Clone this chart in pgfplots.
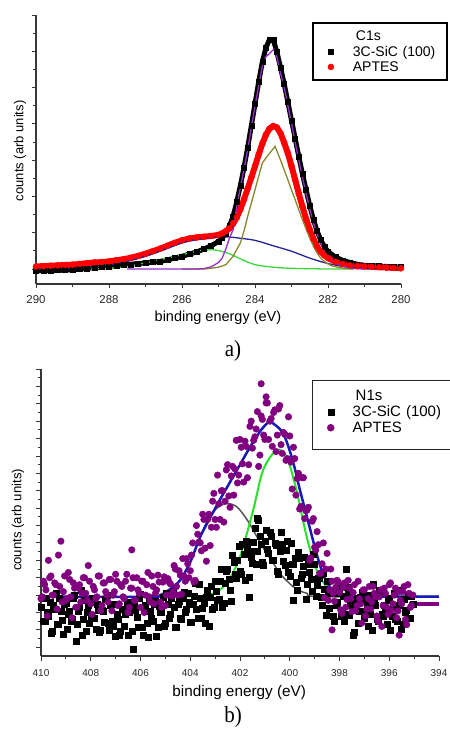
\documentclass[border=0pt]{standalone}
\usepackage{pgfplots}
\pgfplotsset{compat=1.18}
\usepackage{pgfplotstable}
\usepackage{fontspec}
\setmainfont{Liberation Sans}
\newfontfamily\seriffont{Liberation Serif}

\definecolor{axgray}{RGB}{55,55,55}
\definecolor{fitviolet}{RGB}{150,45,200}
\definecolor{fitolive}{RGB}{135,135,45}
\definecolor{fitnavy}{RGB}{35,35,150}
\definecolor{fitgreen}{RGB}{60,215,60}
\definecolor{aptpurple}{RGB}{128,0,128}
\definecolor{nblue}{RGB}{25,25,185}
\definecolor{ngreen}{RGB}{40,225,40}
\definecolor{ngrey}{RGB}{85,85,85}

% ---------- C1s ----------
\pgfplotstableread{
E v
290.0 -0.04
289.8 -0.05
289.6 -0.04
289.4 -0.03
289.2 -0.03
289.0 -0.02
288.8 0.00
288.6 0.02
288.4 0.04
288.2 0.05
288.0 0.07
287.8 0.09
287.6 0.11
287.4 0.13
287.2 0.15
287.0 0.17
286.8 0.19
286.6 0.21
286.4 0.25
286.2 0.30
286.0 0.35
285.8 0.41
285.6 0.47
285.4 0.55
285.2 0.64
285.0 0.76
284.9 0.85
284.8 0.98
284.7 1.18
284.6 1.45
284.5 1.85
284.4 2.30
284.3 2.80
284.2 3.35
284.1 3.95
284.0 4.55
283.9 5.15
283.8 5.70
283.7 6.10
283.6 6.33
283.5 6.32
283.4 5.98
283.3 5.55
283.2 5.10
283.1 4.60
283.0 4.10
282.9 3.60
282.8 3.10
282.7 2.62
282.6 2.18
282.5 1.75
282.4 1.36
282.3 1.05
282.2 0.80
282.1 0.62
282.0 0.48
281.8 0.33
281.6 0.24
281.4 0.18
281.2 0.13
281.0 0.10
280.8 0.09
280.6 0.08
280.4 0.07
280.2 0.06
280.0 0.05
}\cSiC

\pgfplotstableread{
E v
290.0 0.07
289.8 0.08
289.6 0.09
289.4 0.10
289.2 0.11
289.0 0.12
288.8 0.14
288.6 0.16
288.4 0.18
288.2 0.19
288.0 0.21
287.8 0.24
287.6 0.27
287.4 0.31
287.2 0.36
287.0 0.42
286.8 0.49
286.6 0.56
286.4 0.64
286.2 0.72
286.0 0.79
285.8 0.84
285.6 0.87
285.4 0.89
285.2 0.91
285.0 0.94
284.9 0.98
284.8 1.04
284.7 1.12
284.6 1.25
284.5 1.42
284.4 1.65
284.3 1.92
284.2 2.22
284.1 2.52
284.0 2.83
283.9 3.15
283.8 3.45
283.7 3.70
283.6 3.87
283.5 3.94
283.4 3.90
283.3 3.74
283.2 3.48
283.1 3.19
283.0 2.84
282.9 2.46
282.8 2.08
282.7 1.72
282.6 1.38
282.5 1.08
282.4 0.83
282.3 0.62
282.2 0.48
282.1 0.38
282.0 0.30
281.8 0.20
281.6 0.14
281.4 0.10
281.2 0.08
281.0 0.07
280.8 0.06
280.6 0.05
280.4 0.04
280.2 0.03
280.0 0.02
}\cAPT

\pgfplotstableread{
E v
287.5 0.00
285.6 0.00
285.4 0.01
285.2 0.06
285.0 0.18
284.9 0.30
284.8 0.55
284.7 0.85
284.6 1.08
284.5 1.72
284.4 2.25
284.3 2.75
284.2 3.30
284.1 3.90
284.0 4.48
283.9 5.05
283.8 5.58
283.7 5.85
283.6 5.94
283.48 6.06
283.4 5.85
283.3 5.40
283.2 5.00
283.1 4.52
283.0 4.02
282.9 3.50
282.8 3.00
282.7 2.52
282.6 2.09
282.5 1.66
282.4 1.27
282.3 0.97
282.2 0.72
282.1 0.52
282.0 0.35
281.8 0.17
281.6 0.08
281.4 0.03
281.2 0.01
281.0 0.00
}\cfitSiC

\pgfplotstableread{
E v
286.0 0.00
285.4 0.00
285.2 0.02
285.0 0.05
284.8 0.12
284.6 0.35
284.4 0.72
284.3 1.05
284.2 1.45
284.1 1.82
284.0 2.18
283.9 2.55
283.8 2.92
283.7 3.06
283.6 3.19
283.45 3.38
283.3 3.00
283.2 2.73
283.1 2.46
283.0 2.18
282.9 1.91
282.8 1.63
282.7 1.36
282.6 1.10
282.5 0.85
282.4 0.63
282.3 0.44
282.2 0.30
282.1 0.21
282.0 0.14
281.9 0.09
281.7 0.04
281.5 0.01
281.3 0.00
}\cfitAPT

\pgfplotstableread{
E v
290.0 0.00
289.5 0.01
289.0 0.02
288.5 0.06
288.0 0.11
287.5 0.21
287.0 0.35
286.5 0.53
286.0 0.72
285.5 0.83
285.0 0.88
284.7 0.88
284.5 0.86
284.0 0.79
283.5 0.64
283.0 0.49
282.5 0.30
282.0 0.15
281.5 0.06
281.0 0.02
280.5 0.00
}\cfitBroad

\pgfplotstableread{
E v
288.5 0.00
288.0 0.02
287.5 0.07
287.0 0.17
286.5 0.28
286.0 0.39
285.5 0.51
285.15 0.53
285.0 0.51
284.7 0.42
284.4 0.28
284.0 0.12
283.5 0.05
283.0 0.02
282.0 0.00
281.3 0.00
}\cfitSmall

% ---------- N1s ----------
\pgfplotstableread{
E v
410.0 2.8
409.9 2.0
409.8 3.3
409.7 2.3
409.6 1.3
409.5 2.9
409.4 3.6
409.3 1.85
409.2 2.55
409.1 1.25
409.0 3.05
408.9 2.4
408.8 2.0
408.7 3.3
408.6 0.85
408.5 2.6
408.4 3.8
408.3 2.1
408.2 1.4
408.1 2.9
408.0 2.3
407.9 3.1
407.8 1.55
407.7 2.65
407.6 1.5
407.5 2.55
407.4 3.25
407.3 1.9
407.2 2.9
407.1 1.7
407.0 1.15
406.9 2.1
406.8 1.4
406.7 2.7
406.6 2.4
406.5 1.2
406.4 3.1
406.3 0.4
406.2 2.65
406.1 1.65
406.0 3.55
405.9 1.2
405.8 2.9
405.7 1.1
405.6 2.6
405.5 2.0
405.4 3.15
405.3 1.65
405.2 2.5
405.1 3.4
405.0 1.9
404.9 2.95
404.8 2.4
404.7 3.7
404.6 1.65
404.5 2.95
404.4 2.2
404.3 3.35
404.2 2.5
404.1 3.6
404.0 1.95
403.9 2.95
403.8 4.2
403.7 2.2
403.6 3.3
403.5 2.75
403.4 1.9
403.3 3.8
403.2 3.4
403.1 2.7
403.0 4.3
402.9 3.2
402.8 4.3
402.7 2.8
402.6 4.2
402.5 5.0
402.4 3.8
402.3 5.8
402.2 4.7
402.1 5.5
402.0 4.9
401.9 6.4
401.8 4.35
401.7 6.25
401.6 6.05
401.5 5.35
401.4 7.35
401.3 6.05
401.2 6.9
401.1 5.4
401.0 6.6
400.9 6.15
400.8 7.1
400.7 5.5
400.6 6.5
400.5 4.9
400.4 6.0
400.3 6.4
400.2 5.2
400.1 6.6
400.0 4.6
399.9 5.3
399.8 5.6
399.7 3.8
399.6 5.6
399.5 4.7
399.4 5.7
399.3 4.15
399.2 4.8
399.1 3.7
399.0 5.3
398.9 4.05
398.8 4.5
398.7 2.9
398.6 3.85
398.5 4.3
398.4 2.75
398.3 3.6
398.2 2.0
398.1 3.1
398.0 3.6
397.9 2.55
397.8 2.0
397.7 3.95
397.6 2.35
397.5 3.05
397.4 1.35
397.3 3.35
397.2 2.55
397.1 3.65
397.0 2.2
396.9 2.8
396.8 3.5
396.7 1.5
396.6 3.1
396.5 2.1
396.4 3.8
396.3 2.4
396.2 2.9
396.1 1.8
396.0 3.2
395.9 2.3
395.8 3.6
395.7 2.0
395.6 2.9
395.5 1.55
395.4 3.25
395.3 2.65
395.2 2.15
395.1 3.45
401.3 7.95
397.75 5.0
401.65 3.4
399.85 3.2
409.95 3.3
409.85 2.0
409.75 2.5
409.65 3.1
409.55 1.4
409.45 2.7
409.35 1.8
409.25 3.35
409.15 2.05
409.05 2.95
408.95 1.55
408.85 2.6
408.75 2.1
408.65 3.5
408.55 1.8
408.45 2.8
408.35 1.2
408.25 3.2
408.15 2.5
408.05 1.9
407.95 3.3
407.85 2.2
407.75 2.95
407.65 1.35
407.55 2.65
407.45 1.95
407.35 3.5
407.25 1.5
407.15 2.0
407.05 3.0
406.95 2.4
406.85 1.2
406.75 2.7
406.65 1.7
406.55 3.1
406.45 2.5
406.35 1.4
406.25 2.85
406.15 2.25
406.05 3.35
405.95 1.65
405.85 2.7
405.75 1.9
405.65 3.3
405.55 2.2
405.45 3.0
405.35 1.15
405.25 2.85
405.15 2.5
405.05 1.7
404.95 3.6
404.85 2.15
404.75 3.3
404.65 2.8
404.55 1.65
404.45 3.15
404.35 2.1
404.25 3.65
404.15 2.7
404.05 3.1
403.95 1.95
403.85 3.45
403.75 2.7
403.65 4.1
403.55 2.2
403.45 3.05
403.35 3.4
403.25 1.7
403.15 4.0
403.05 2.8
402.95 3.75
402.85 3.25
402.75 5.0
402.65 3.05
402.55 4.9
402.45 4.4
402.35 3.15
402.25 5.4
402.15 4.5
402.05 6.3
401.95 4.7
401.85 5.85
401.75 6.6
401.65 4.55
401.55 5.7
401.45 6.55
401.35 5.3
401.25 7.8
401.15 6.4
401.05 5.2
400.95 7.25
400.85 5.9
400.75 6.9
400.65 5.5
400.55 6.35
400.45 4.7
400.35 7.1
400.25 5.45
400.15 6.1
400.05 4.8
399.95 6.5
399.85 5.3
399.75 4.25
399.65 5.95
399.55 4.5
399.45 5.15
399.35 3.25
399.25 5.25
399.15 4.4
399.05 5.85
398.95 3.45
398.85 4.5
398.75 3.4
398.65 4.75
398.55 2.35
398.45 3.6
398.35 3.75
398.25 2.3
398.15 2.9
398.05 4.0
397.95 2.3
397.85 3.45
397.75 2.4
397.65 3.6
397.55 2.9
397.45 1.2
397.35 3.0
397.25 1.9
397.15 3.4
397.05 2.6
396.95 3.2
396.85 1.7
396.75 2.4
396.65 4.1
396.55 2.9
396.45 2.0
396.35 3.6
396.25 2.3
396.15 2.7
396.05 3.3
395.95 1.5
395.85 2.8
395.75 2.1
395.65 3.8
395.55 3.1
395.45 1.8
395.35 2.5
395.25 3.5
395.15 2.2
395.05 3.0
}\nSiC

\pgfplotstableread{
E v
410.0 3.3
409.9 4.3
409.8 3.8
409.7 5.5
409.6 4.6
409.5 3.5
409.4 4.1
409.3 5.8
409.2 6.6
409.1 3.7
409.0 3.2
408.9 4.8
408.8 3.4
408.7 4.2
408.6 2.8
408.5 3.9
408.4 3.1
408.3 4.5
408.2 3.6
408.1 5.2
408.0 3.0
407.9 4.0
407.8 3.3
407.7 4.6
407.6 2.6
407.5 4.2
407.4 3.7
407.3 3.1
407.2 4.4
407.1 3.5
407.0 4.7
406.9 2.9
406.8 4.1
406.7 3.4
406.6 4.3
406.5 2.5
406.4 3.9
406.3 4.5
406.2 3.2
406.1 3.8
406.0 2.8
405.9 4.3
405.8 3.5
405.7 4.8
405.6 3.1
405.5 4.0
405.4 3.6
405.3 4.65
405.2 3.1
405.1 4.25
405.0 2.9
404.9 4.45
404.8 4.15
404.7 3.7
404.6 5.0
404.5 3.5
404.4 4.65
404.3 5.6
404.2 4.3
404.1 5.3
404.0 4.9
403.9 6.5
403.8 4.35
403.7 7.0
403.6 6.5
403.5 8.15
403.4 6.2
403.3 7.85
403.2 6.35
403.1 8.9
403.0 7.85
402.9 10.4
402.8 7.85
402.7 9.5
402.6 8.9
402.5 11.0
402.4 8.55
402.3 10.9
402.2 10.75
402.1 9.95
402.0 12.45
401.9 11.05
401.8 12.35
401.7 10.25
401.6 13.2
401.5 11.95
401.4 12.6
401.3 14.05
401.2 11.55
401.1 13.6
401.0 12.45
400.9 14.55
400.8 13.5
400.7 12.05
400.6 14.15
400.5 12.7
400.4 14.4
400.3 11.65
400.2 12.75
400.1 11.35
400.0 12.65
399.9 9.6
399.8 11.35
399.7 10.2
399.6 8.45
399.5 10.25
399.4 7.9
399.3 8.4
399.2 5.5
399.1 7.75
399.0 6.25
398.9 7.15
398.8 4.75
398.7 5.3
398.6 3.35
398.5 5.9
398.4 3.8
398.3 4.3
398.2 3.15
398.1 4.35
398.0 3.65
397.9 2.45
397.8 4.2
397.7 3.25
397.6 3.9
397.5 2.55
397.4 4.1
397.3 2.9
397.2 3.3
397.1 1.9
397.0 3.8
396.9 2.7
396.8 4.0
396.7 3.1
396.6 3.6
396.5 2.3
396.4 3.4
396.3 1.7
396.2 3.9
396.1 2.8
396.0 4.1
395.9 2.6
395.8 3.5
395.7 2.2
395.6 3.7
395.5 3.0
395.4 4.0
395.3 1.8
395.2 3.6
395.1 2.9
401.15 15.65
400.95 14.9
406.35 6.1
395.6 1.2
398.3 1.5
409.95 3.4
409.85 4.1
409.75 2.3
409.65 4.5
409.55 3.5
409.45 4.2
409.35 2.7
409.25 4.0
409.15 3.1
409.05 4.6
408.95 3.3
408.85 4.4
408.75 2.2
408.65 3.9
408.55 2.8
408.45 4.1
408.35 3.6
408.25 4.5
408.15 3.2
408.05 4.3
407.95 2.4
407.85 3.8
407.75 3.4
407.65 4.6
407.55 2.9
407.45 4.2
407.35 3.5
407.25 4.4
407.15 2.6
407.05 3.7
406.95 4.3
406.85 3.0
406.75 4.0
406.65 3.3
406.55 4.7
406.45 2.8
406.35 3.9
406.25 3.2
406.15 4.5
406.05 3.6
405.95 4.3
405.85 2.5
405.75 4.1
405.65 3.4
405.55 4.6
405.45 3.0
405.35 3.8
405.25 4.25
405.15 2.8
405.05 4.55
404.95 3.5
404.85 4.25
404.75 3.45
404.65 5.2
404.55 4.0
404.45 4.9
404.35 3.55
404.25 4.6
404.15 5.6
404.05 4.5
403.95 5.8
403.85 4.25
403.75 7.5
403.65 6.55
403.55 6.05
403.45 7.85
403.35 5.45
403.25 8.15
403.15 7.4
403.05 9.35
402.95 7.4
402.85 8.75
402.75 9.5
402.65 7.7
402.55 10.7
402.45 9.2
402.35 10.35
402.25 9.25
402.15 12.4
402.05 10.4
401.95 12.0
401.85 10.0
401.75 12.05
401.65 11.0
401.55 13.5
401.45 12.4
401.35 13.05
401.25 10.9
401.15 13.8
401.05 12.7
400.95 14.55
400.85 12.45
400.75 13.65
400.65 14.0
400.55 11.75
400.45 14.2
400.35 12.15
400.25 12.85
400.15 11.25
400.05 13.75
399.95 11.15
399.85 12.0
399.75 9.25
399.65 10.5
399.55 8.6
399.45 10.25
399.35 8.35
399.25 8.55
399.15 5.65
399.05 7.9
398.95 6.1
398.85 6.4
398.75 4.75
398.65 6.5
398.55 5.0
398.45 3.2
398.35 5.0
398.25 3.6
398.15 3.95
398.05 4.25
397.95 2.65
397.85 3.95
397.75 2.8
397.65 4.35
397.55 3.3
397.45 3.65
397.35 2.6
397.25 4.3
397.15 3.0
397.05 3.8
396.95 2.3
396.85 3.3
396.75 2.7
396.65 4.0
396.55 3.4
396.45 2.0
396.35 3.8
396.25 2.9
396.15 3.6
396.05 2.4
395.95 4.2
395.85 3.0
395.75 3.9
395.65 2.6
395.55 3.2
395.45 3.7
395.35 2.1
395.25 4.1
395.15 2.8
395.05 3.5
}\nAPT

\pgfplotstableread{
E v
410.0 3.41
405.6 3.41
405.2 3.50
404.8 3.85
404.4 4.37
404.0 5.40
403.6 6.85
403.2 7.95
402.8 9.00
402.4 10.00
402.0 11.00
401.6 12.00
401.2 12.90
400.9 13.40
400.79 13.47
400.6 13.30
400.4 13.05
400.2 12.60
400.0 11.80
399.8 10.80
399.6 9.60
399.4 8.50
399.2 7.40
399.0 6.30
398.8 5.30
398.6 4.50
398.4 4.00
398.2 3.70
398.0 3.52
397.6 3.43
397.2 3.41
394.0 3.41
}\nfitSum

\pgfplotstableread{
E v
410.0 3.41
405.6 3.41
405.2 3.50
404.8 3.85
404.4 4.37
404.0 5.40
403.6 6.85
403.3 7.80
402.94 8.49
402.7 8.70
402.47 8.77
402.2 8.65
402.0 8.39
401.7 7.80
401.47 7.24
401.2 6.55
400.93 5.90
400.6 5.20
400.4 4.75
400.1 4.30
399.86 3.98
399.6 3.75
399.3 3.60
398.8 3.41
394.0 3.41
}\nfitHigh

\pgfplotstableread{
E v
405.5 3.41
403.61 3.45
403.07 3.60
402.53 4.18
402.0 5.71
401.47 8.39
401.07 10.69
400.53 11.84
400.13 11.46
399.73 9.54
399.32 6.86
398.92 4.94
398.39 3.79
397.72 3.45
396.91 3.41
394.0 3.41
}\nfitLow

\pgfplotstableread{
E v
395.2 2.99
394.0 2.99
}\nAPTend

\pgfplotsset{
  markleg/.style={legend image code/.code={
    \path[draw=none,fill=none] (0pt,0pt) -- (40pt,0pt);
    \draw[mark repeat=1,##1,line width=0.4pt] plot[only marks] coordinates {(18pt,0pt)};}},
  marklegdeep/.style={legend image code/.code={
    \path[draw=none,fill=none] (0pt,-15pt) -- (40pt,0pt);
    \draw[mark repeat=1,##1,line width=0.4pt] plot[only marks] coordinates {(18pt,0pt)};}},
  xps/.style={
    scale only axis,
    x dir=reverse,
    axis x line=bottom, axis y line=left,
    axis line style={-, axgray, line width=1.1pt},
    tick align=outside,
    tick style={axgray, line width=0.9pt},
    yticklabels={},
    /pgf/number format/assume math mode=true,
    xticklabel style={text=black!85},
    legend cell align=left,
  },
}

\begin{document}
\begin{tikzpicture}
\useasboundingbox (0pt,0pt) rectangle (450pt,732pt);

% ---- a) C1s ----
\begin{axis}[xps,
  at={(36pt,448pt)}, anchor=south west,
  width=365pt, height=269pt,
  xmin=280, xmax=290, ymin=-0.413, ymax=7,
  xtick={280,282,...,290}, minor x tick num=1,
  ytick={0,...,7}, minor y tick num=1,
  major tick length=4.3pt, minor tick length=2.7pt,
  xticklabel style={font=\fontsize{11.4}{13}\selectfont, anchor=center, yshift=-11pt},
  xlabel={binding energy (eV)},
  ylabel={counts (arb units)},
  xlabel style={font=\fontsize{14.5}{17}\selectfont, at={(axis description cs:0.4986,0)}, anchor=center, yshift=-34pt},
  ylabel style={font=\fontsize{13}{15}\selectfont, at={(axis description cs:-0.0438,0.495)}, anchor=center},
  legend style={at={(0.7562,0.9729)}, anchor=north west, draw=black, line width=1.8pt,
    fill=white, inner xsep=0pt, inner ysep=5pt, /tikz/column sep=0pt,
    font=\fontsize{14}{16}\selectfont,
    nodes={inner sep=0pt, text height=12.75pt, text depth=2.75pt, text width=94pt}},
]
\addlegendimage{empty legend}
\addlegendentry{\hspace*{3pt}C1s}
\addlegendimage{black, only marks, mark=square*, mark size=2.5pt, markleg}
\addlegendentry{3C-SiC (100)}
\addlegendimage{red, only marks, mark=*, mark size=3pt, markleg}
\addlegendentry{APTES}

\addplot[black, line width=5pt, line join=round, forget plot] table {\cSiC};
\addplot[black, only marks, mark=square*, mark size=2.5pt, forget plot] table {\cSiC};
\addplot[red, line width=6pt, line join=round, forget plot] table {\cAPT};
\addplot[red, only marks, mark=*, mark size=3pt, forget plot] table {\cAPT};

\addplot[fitnavy, line width=1.3pt, smooth, forget plot] table {\cfitBroad};
\addplot[fitgreen, line width=1.3pt, smooth, forget plot] table {\cfitSmall};
\addplot[fitolive, line width=1.3pt, forget plot] table {\cfitAPT};
\addplot[fitviolet, line width=1.3pt, forget plot] table {\cfitSiC};
\end{axis}

% ---- b) N1s ----
\begin{axis}[xps,
  at={(41pt,76pt)}, anchor=south west,
  width=398pt, height=287pt,
  xmin=394, xmax=410, ymin=0, ymax=16.5,
  xtick={394,396,...,410}, minor x tick num=1,
  ytick={0.5,1.5,...,16.5}, minor y tick num=1,
  major tick length=5pt, minor tick length=3pt,
  xticklabel style={font=\fontsize{10}{12}\selectfont, anchor=center, yshift=-12pt},
  xlabel={binding energy (eV)},
  ylabel={counts (arb units)},
  xlabel style={font=\fontsize{15.3}{18}\selectfont, at={(axis description cs:0.498,0)}, anchor=center, yshift=-37pt},
  ylabel style={font=\fontsize{13.2}{15}\selectfont, at={(axis description cs:-0.0578,0.474)}, anchor=center},
  legend style={at={(0.6809,0.9617)}, anchor=north west, draw=black!85, line width=1.5pt,
    fill=white, inner xsep=0pt, inner ysep=7pt, /tikz/column sep=0pt,
    font=\fontsize{15}{17}\selectfont,
    nodes={inner sep=0pt, text height=13.2pt, text depth=2.8pt, text width=102pt}},
]
\addlegendimage{empty legend}
\addlegendentry{\hspace*{3pt}N1s}
\addlegendimage{black, only marks, mark=square*, mark size=3pt, markleg}
\addlegendentry{3C-SiC (100)}
\addlegendimage{aptpurple, only marks, mark=*, mark size=3.5pt, marklegdeep}
\addlegendentry{APTES}

\addplot[black, only marks, mark=square*, mark size=3pt, forget plot] table {\nSiC};
\addplot[aptpurple, only marks, mark=*, mark size=3.3pt, forget plot] table {\nAPT};
\addplot[aptpurple, line width=4.5pt, forget plot] table {\nAPTend};

\addplot[ngrey, line width=1.5pt, smooth, forget plot] table {\nfitHigh};
\addplot[ngreen, line width=2pt, smooth, forget plot] table {\nfitLow};
\addplot[nblue, line width=2.5pt, smooth, forget plot] table {\nfitSum};
\end{axis}

\node[font=\seriffont\fontsize{21}{24}\selectfont, yscale=1.1] at (233pt,381pt) {a)};
\node[font=\seriffont\fontsize{21}{24}\selectfont, yscale=1.1] at (233pt,15pt) {b)};
\end{tikzpicture}
\end{document}
